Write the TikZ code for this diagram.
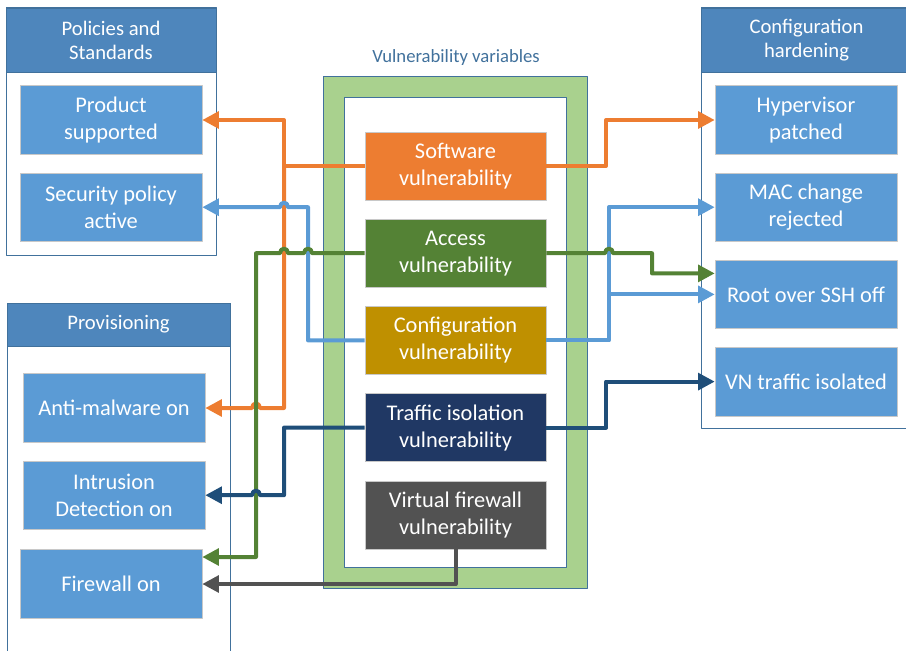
\documentclass[tikz,border=0pt]{standalone}
\usepackage{fontspec}
\setmainfont{Carlito}
\usetikzlibrary{arrows.meta, positioning, calc}

\definecolor{boxblue}{HTML}{5B9BD5}
\definecolor{headblue}{HTML}{4E86BC}
\definecolor{frameblue}{HTML}{41719C}
\definecolor{boxgrey}{HTML}{C8C8C8}
\definecolor{softorange}{HTML}{ED7D31}
\definecolor{accgreen}{HTML}{548235}
\definecolor{cfggold}{HTML}{BF9000}
\definecolor{trafnavy}{HTML}{203864}
\definecolor{navyline}{HTML}{1F4E79}
\definecolor{fwgrey}{HTML}{525252}
\definecolor{bandgreen}{HTML}{A9D18E}

\newcommand{\boxfont}{\fontsize{16.8}{20.3}\selectfont}
\newcommand{\headfont}{\fontsize{15.5}{18}\selectfont}
% line hops over a crossing trunk
\newcommand{\jumpleft}[1]{-- ($(#1)+(4,0)$) .. controls ($(#1)+(4,-6)$) and ($(#1)+(-4,-6)$) .. ($(#1)+(-4,0)$)}
\newcommand{\jumpright}[1]{-- ($(#1)+(-4,0)$) .. controls ($(#1)+(-4,-6)$) and ($(#1)+(4,-6)$) .. ($(#1)+(4,0)$)}

\begin{document}
\begin{tikzpicture}[
            x = 0.75pt, y = -0.75pt,
            > = {Triangle[length=12.5pt, width=12.5pt]},
            line join = round,
            node distance = 13.5pt,
            vuln/.style = {item, fill = #1, minimum width = 135.75pt, minimum height = 51pt},
            link/.style = {->, line width = 3pt, draw = #1},
            header/.style = {fill = headblue, draw = frameblue, line width = 0.75pt,
                text = white, font = \headfont, align = center, inner sep = 0pt}
        ]
        \tikzstyle{item}=[
            draw = boxgrey,
            fill = boxblue,
            text = white,
            font = \boxfont,
            align = center,
            inner sep = 0pt,
            minimum width = 136.5pt,
            minimum height = 51.5pt
        ]
        \tikzstyle{group}=[draw = frameblue, line width = 0.75pt]

        \path[use as bounding box] (0,0) rectangle (906,650);
        \clip (0,0) rectangle (906,650);

        % groups
        \draw[group] (6,7) rectangle (216,255);
        \node[header, minimum width = 157.5pt, minimum height = 48pt] (polh) at (111,40) {Policies and\\Standards};
        \draw[group] (7,303) rectangle (230,670);
        \node[header, minimum width = 167.25pt, minimum height = 32.25pt] (provh) at (118.5,324.5) {Provisioning};
        \draw[group] (701,7) rectangle (912,428);
        \node[header, minimum width = 158.25pt, minimum height = 48pt] (cfgh) at (806.5,40) {Configuration\\hardening};

        \draw[group, fill = bandgreen] (323,76) rectangle (587,588);
        \draw[group, fill = white] (344,97) rectangle (566,567);
        \node[text = frameblue, font = \fontsize{14}{16}\selectfont] (vtitle) at (456,58) {Vulnerability variables};

        % left boxes
        \node[item] (ps) at (111,120) {Product\\supported};
        \node[item, below=of ps] (spa) {Security policy\\active};
        \node[item] (am) at (114,408) {Anti-malware on};
        \node[item, below=of am] (ids) {Intrusion\\Detection on};
        \node[item] (fw) at (111,584) {Firewall on};

        % right boxes
        \node[item] (hp) at (806,120) {Hypervisor\\patched};
        \node[item, below=of hp] (mac) {MAC change\\rejected};
        \node[item, below=of mac] (ssh) {Root over SSH off};
        \node[item, below=of ssh] (vn) {VN traffic isolated};

        % vulnerability variables
        \node[vuln = softorange] (sv) at (455.5,166) {Software\\vulnerability};
        \node[vuln = accgreen, below=14pt of sv] (av) {Access\\vulnerability};
        \node[vuln = cfggold, below=14pt of av] (cv) {Configuration\\vulnerability};
        \node[vuln = trafnavy, below=14pt of cv] (tv) {Traffic isolation\\vulnerability};
        \node[vuln = fwgrey, below=14pt of tv] (fv) {Virtual firewall\\vulnerability};

        % trunks
        \coordinate (gt) at (256,0);
        \coordinate (ot) at (284,0);
        \coordinate (bt) at (308,0);
        \coordinate (ort) at (606,0);
        \coordinate (brt) at (609,0);
        \coordinate (grt) at (652,0);
        \coordinate (fwin) at ($(fw.east)+(0,-27)$);
        \coordinate (sshin) at ($(ssh.west)+(0,-21)$);

        \draw[link = softorange] (sv.west) -- (ot |- sv.west) |- (ps.east);
        \draw[link = softorange] (ot |- sv.west) -- (ot |- am.east) \jumpleft{gt |- am.east} -- (am.east);
        \draw[link = softorange] (sv.east) -- (ort |- sv.east) |- (hp.west);

        \draw[link = boxblue] (cv.west) -- (bt |- cv.west) -- (bt |- spa.east) \jumpleft{ot |- spa.east} -- (spa.east);
        \draw[link = boxblue] (cv.east) -- (brt |- cv.east) |- (mac.west);
        \draw[link = boxblue] (brt |- ssh.west) -- (ssh.west);

        \draw[link = accgreen] (av.west) \jumpleft{bt |- av.west} \jumpleft{ot |- av.west} -- (gt |- av.west) |- (fwin);
        \draw[link = accgreen] (av.east) \jumpright{brt |- av.east} -- (grt |- av.east) |- (sshin);

        \draw[link = navyline] (tv.west) -- (ot |- tv.west) -- (ot |- ids.east) \jumpleft{gt |- ids.east} -- (ids.east);
        \draw[link = navyline] (tv.east) -- (ort |- tv.east) |- (vn.west);

        \draw[link = fwgrey] (fv.south) |- (fw.east);
\end{tikzpicture}
\end{document}
